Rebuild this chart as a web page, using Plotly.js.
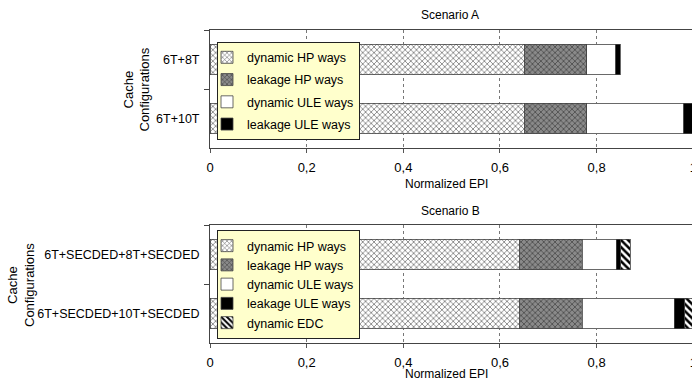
<!DOCTYPE html>
<html>
<head>
<meta charset="utf-8">
<script src="https://cdn.plot.ly/plotly-3.0.1.min.js"></script>
<style>
html,body{margin:0;padding:0;overflow:hidden;background:#fff;width:692px;height:385px;}
#chart{width:700px;height:385px;}
</style>
</head>
<body>
<div id="chart"></div>
<script>
// ---- Data ----
const categoriesA = ['6T+8T', '6T+10T'];
const dynHP_A   = [0.65, 0.65];
const leakHP_A  = [0.13, 0.13];
const dynULE_A  = [0.06, 0.20];
const leakULE_A = [0.009, 0.02];

const categoriesB = ['6T+SECDED+8T+SECDED', '6T+SECDED+10T+SECDED'];
const dynHP_B   = [0.64, 0.64];
const leakHP_B  = [0.13, 0.13];
const dynULE_B  = [0.071, 0.191];
const leakULE_B = [0.009, 0.021];
const dynEDC_B  = [0.02, 0.02];

const seriesNames = ['dynamic HP ways', 'leakage HP ways', 'dynamic ULE ways', 'leakage ULE ways', 'dynamic EDC'];
const xTickVals = [0, 0.2, 0.4, 0.6, 0.8, 1];

// ---- Styles ----
const FONT = 'Liberation Sans, Arial, sans-serif';
const lineStyle = {color: '#444', width: 0.8};
const styles = [
  {color: '#ffffff', pattern: {shape: 'x', size: 4, solidity: 0.3, fgcolor: '#5a5a5a', bgcolor: '#ffffff'}},
  {color: '#777777', pattern: {shape: 'x', size: 4, solidity: 0.3, fgcolor: '#3a3a3a', bgcolor: '#8a8a8a'}},
  {color: '#ffffff'},
  {color: '#000000'},
  {color: '#ffffff', pattern: {shape: '\\', size: 5, solidity: 0.5, fgcolor: '#000', bgcolor: '#ffffff'}}
];

function mk(name, idx, x, y, xa, ya, legend, grp) {
  const m = {color: styles[idx].color, line: lineStyle};
  if (styles[idx].pattern) m.pattern = styles[idx].pattern;
  return {
    type: 'bar', orientation: 'h', name: name, x: x, y: y,
    xaxis: xa, yaxis: ya, marker: m, legend: legend, legendgroup: grp,
    hoverinfo: 'skip'
  };
}

const seriesA = [dynHP_A, leakHP_A, dynULE_A, leakULE_A];
const seriesB = [dynHP_B, leakHP_B, dynULE_B, leakULE_B, dynEDC_B];
const traces = [];
seriesA.forEach((v, i) => traces.push(mk(seriesNames[i], i, v, categoriesA, 'x', 'y', 'legend', 'a' + i)));
seriesB.forEach((v, i) => traces.push(mk(seriesNames[i], i, v, categoriesB, 'x2', 'y2', 'legend2', 'b' + i)));

const W = 700, H = 385;
const xDom = [210 / W, 693.3 / W];
const px = v => v / W;
const py = v => 1 - v / H;

const xCommon = {
  range: [0, 1], tickvals: xTickVals, ticks: 'outside', ticklen: 4, tickcolor: '#555',
  showgrid: true, gridcolor: '#777', griddash: 'dot', gridwidth: 1,
  showline: true, mirror: true, linecolor: '#444', linewidth: 1,
  zeroline: false, automargin: false, fixedrange: true,
  tickfont: {family: FONT, size: 13, color: '#000'}, ticklabelstandoff: 3
};
const yCommon = {
  type: 'category', autorange: 'reversed', tickson: 'boundaries', ticks: 'outside', ticklen: 5,
  tickcolor: '#444', showline: true, mirror: true, linecolor: '#444', linewidth: 1,
  showgrid: false, zeroline: false, automargin: false, fixedrange: true,
  tickfont: {family: FONT, size: 12.5, color: '#000'}, ticklabelstandoff: 7
};

const legendCommon = {
  bgcolor: '#FFFFCC', bordercolor: '#222', borderwidth: 1,
  font: {family: FONT, size: 12.5, color: '#000'}, xanchor: 'left', yanchor: 'top',
  itemwidth: 30, indentation: -11, traceorder: 'grouped', itemclick: false, itemdoubleclick: false
};

const annFont = {family: FONT, size: 12, color: '#000'};
const layout = {
  width: W, height: H,
  margin: {l: 0, r: 0, t: 0, b: 0},
  paper_bgcolor: '#fff', plot_bgcolor: '#fff',
  separators: ',.',
  barmode: 'stack', bargap: 0.49,
  showlegend: true,
  xaxis: Object.assign({}, xCommon, {domain: xDom, anchor: 'y'}),
  yaxis: Object.assign({}, yCommon, {domain: [py(148), py(30)], anchor: 'x'}),
  xaxis2: Object.assign({}, xCommon, {domain: xDom, anchor: 'y2'}),
  yaxis2: Object.assign({}, yCommon, {domain: [py(343), py(225)], anchor: 'x2'}),
  legend: Object.assign({}, legendCommon, {x: px(217), y: py(41.7), tracegroupgap: 3}),
  legend2: Object.assign({}, legendCommon, {x: px(217), y: py(230), tracegroupgap: 0}),
  annotations: [
    {text: 'Scenario A', xref: 'paper', yref: 'paper', x: px(450), y: py(15), showarrow: false, font: annFont, xanchor: 'center', yanchor: 'middle'},
    {text: 'Normalized EPI', xref: 'paper', yref: 'paper', x: px(446), y: py(184), showarrow: false, font: annFont, xanchor: 'center', yanchor: 'middle'},
    {text: 'Scenario B', xref: 'paper', yref: 'paper', x: px(450), y: py(211), showarrow: false, font: annFont, xanchor: 'center', yanchor: 'middle'},
    {text: 'Normalized EPI', xref: 'paper', yref: 'paper', x: px(446), y: py(374), showarrow: false, font: annFont, xanchor: 'center', yanchor: 'middle'},
    {text: 'Cache<br>Configurations', xref: 'paper', yref: 'paper', x: px(136.5), y: py(90), showarrow: false, textangle: -90, font: {family: FONT, size: 13, color: '#000'}, xanchor: 'center', yanchor: 'middle'},
    {text: 'Cache<br>Configurations', xref: 'paper', yref: 'paper', x: px(21), y: py(285), showarrow: false, textangle: -90, font: {family: FONT, size: 13, color: '#000'}, xanchor: 'center', yanchor: 'middle'}
  ]
};

Plotly.newPlot('chart', traces, layout, {staticPlot: true, displayModeBar: false});
</script>
</body>
</html>
